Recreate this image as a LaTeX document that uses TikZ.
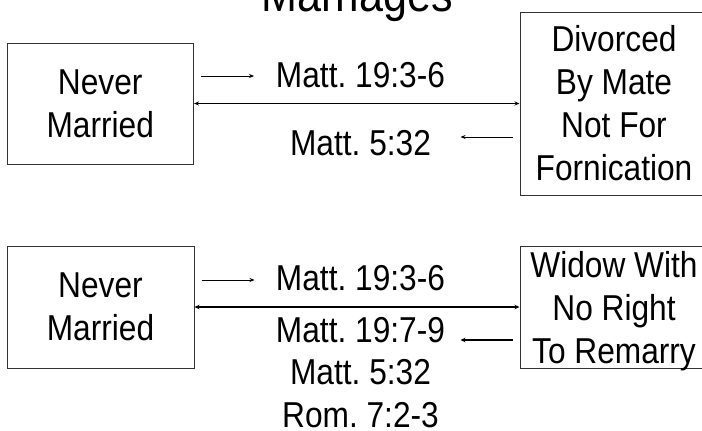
\documentclass[tikz,border=0pt]{standalone}
\usepackage{fontspec}
\setmainfont[FakeStretch=0.88]{Liberation Sans}
\usetikzlibrary{positioning,arrows.meta}
\frenchspacing
\tikzstyle{heading}=[
	inner sep=0pt,
	anchor=base,
	font=\fontsize{49}{50}\selectfont
]
\tikzstyle{box}=[
	draw=black!80,
	line width=1pt,
	inner sep=0pt,
	align=center,
	font=\fontsize{36}{43}\selectfont
]
\tikzstyle{ref}=[
	inner sep=0pt,
	align=center,
	font=\fontsize{36}{42.5}\selectfont
]
\tikzstyle{link} = [draw,line width=0.8pt,-{Stealth[length=5pt,width=4pt]}]
\tikzstyle{wlink} = [draw,line width=1.5pt,-{Stealth[length=5pt,width=4.5pt]}]
\tikzstyle{both} = [draw,line width=1pt,{Stealth[length=5pt,width=4pt]}-{Stealth[length=5pt,width=4pt]}]
\tikzstyle{wboth} = [draw,line width=1.6pt,{Stealth[length=5pt,width=4.5pt]}-{Stealth[length=5pt,width=4.5pt]}]

\begin{document}
\begin{tikzpicture}[x=1pt,y=-1pt]

			\clip (0,0) rectangle (702,431);

			\node[heading]	(title)	at (357,12) {Marriages};

			% upper row
			\node[box, minimum width=186.5pt, minimum height=121pt]	(nm1)	at (100.25,103.5) {Never\\Married};
			\node[box, minimum width=188pt, minimum height=183pt]	(dv)	at (614,103.5) {Divorced\\By Mate\\Not For\\Fornication};
			\node[ref, anchor=base]	(m1)	at (360.5,87) {Matt. 19:3-6};
			\node[ref, anchor=base]	(m2)	at (360.5,155) {Matt. 5:32};

			% lower row
			\node[box, minimum width=187pt, minimum height=122pt]	(nm2)	at (100.5,307) {Never\\Married};
			\node[box, minimum width=188pt, minimum height=122pt, text depth=0pt]	(wd)	at (614,307) {Widow With\\No Right\\To Remarry};
			\node[ref, anchor=base]	(m3)	at (360.5,290) {Matt. 19:3-6};
			\node[ref, anchor=north]	(m4)	at (360.5,317) {Matt. 19:7-9\\Matt. 5:32\\Rom. 7:2-3};

			\path[both] (nm1.east) -- (dv.west);
			\path[link] ([xshift=7pt,yshift=27.5pt]nm1.east) -- +(53pt,0);
			\path[link] ([xshift=-7pt,yshift=-33.5pt]dv.west) -- +(-52pt,0);

			\path[wboth] (nm2.east) -- (wd.west);
			\path[link] ([xshift=7pt,yshift=27pt]nm2.east) -- +(53pt,0);
			\path[wlink] ([xshift=-7pt,yshift=-33pt]wd.west) -- +(-52pt,0);

\end{tikzpicture}
\end{document}
